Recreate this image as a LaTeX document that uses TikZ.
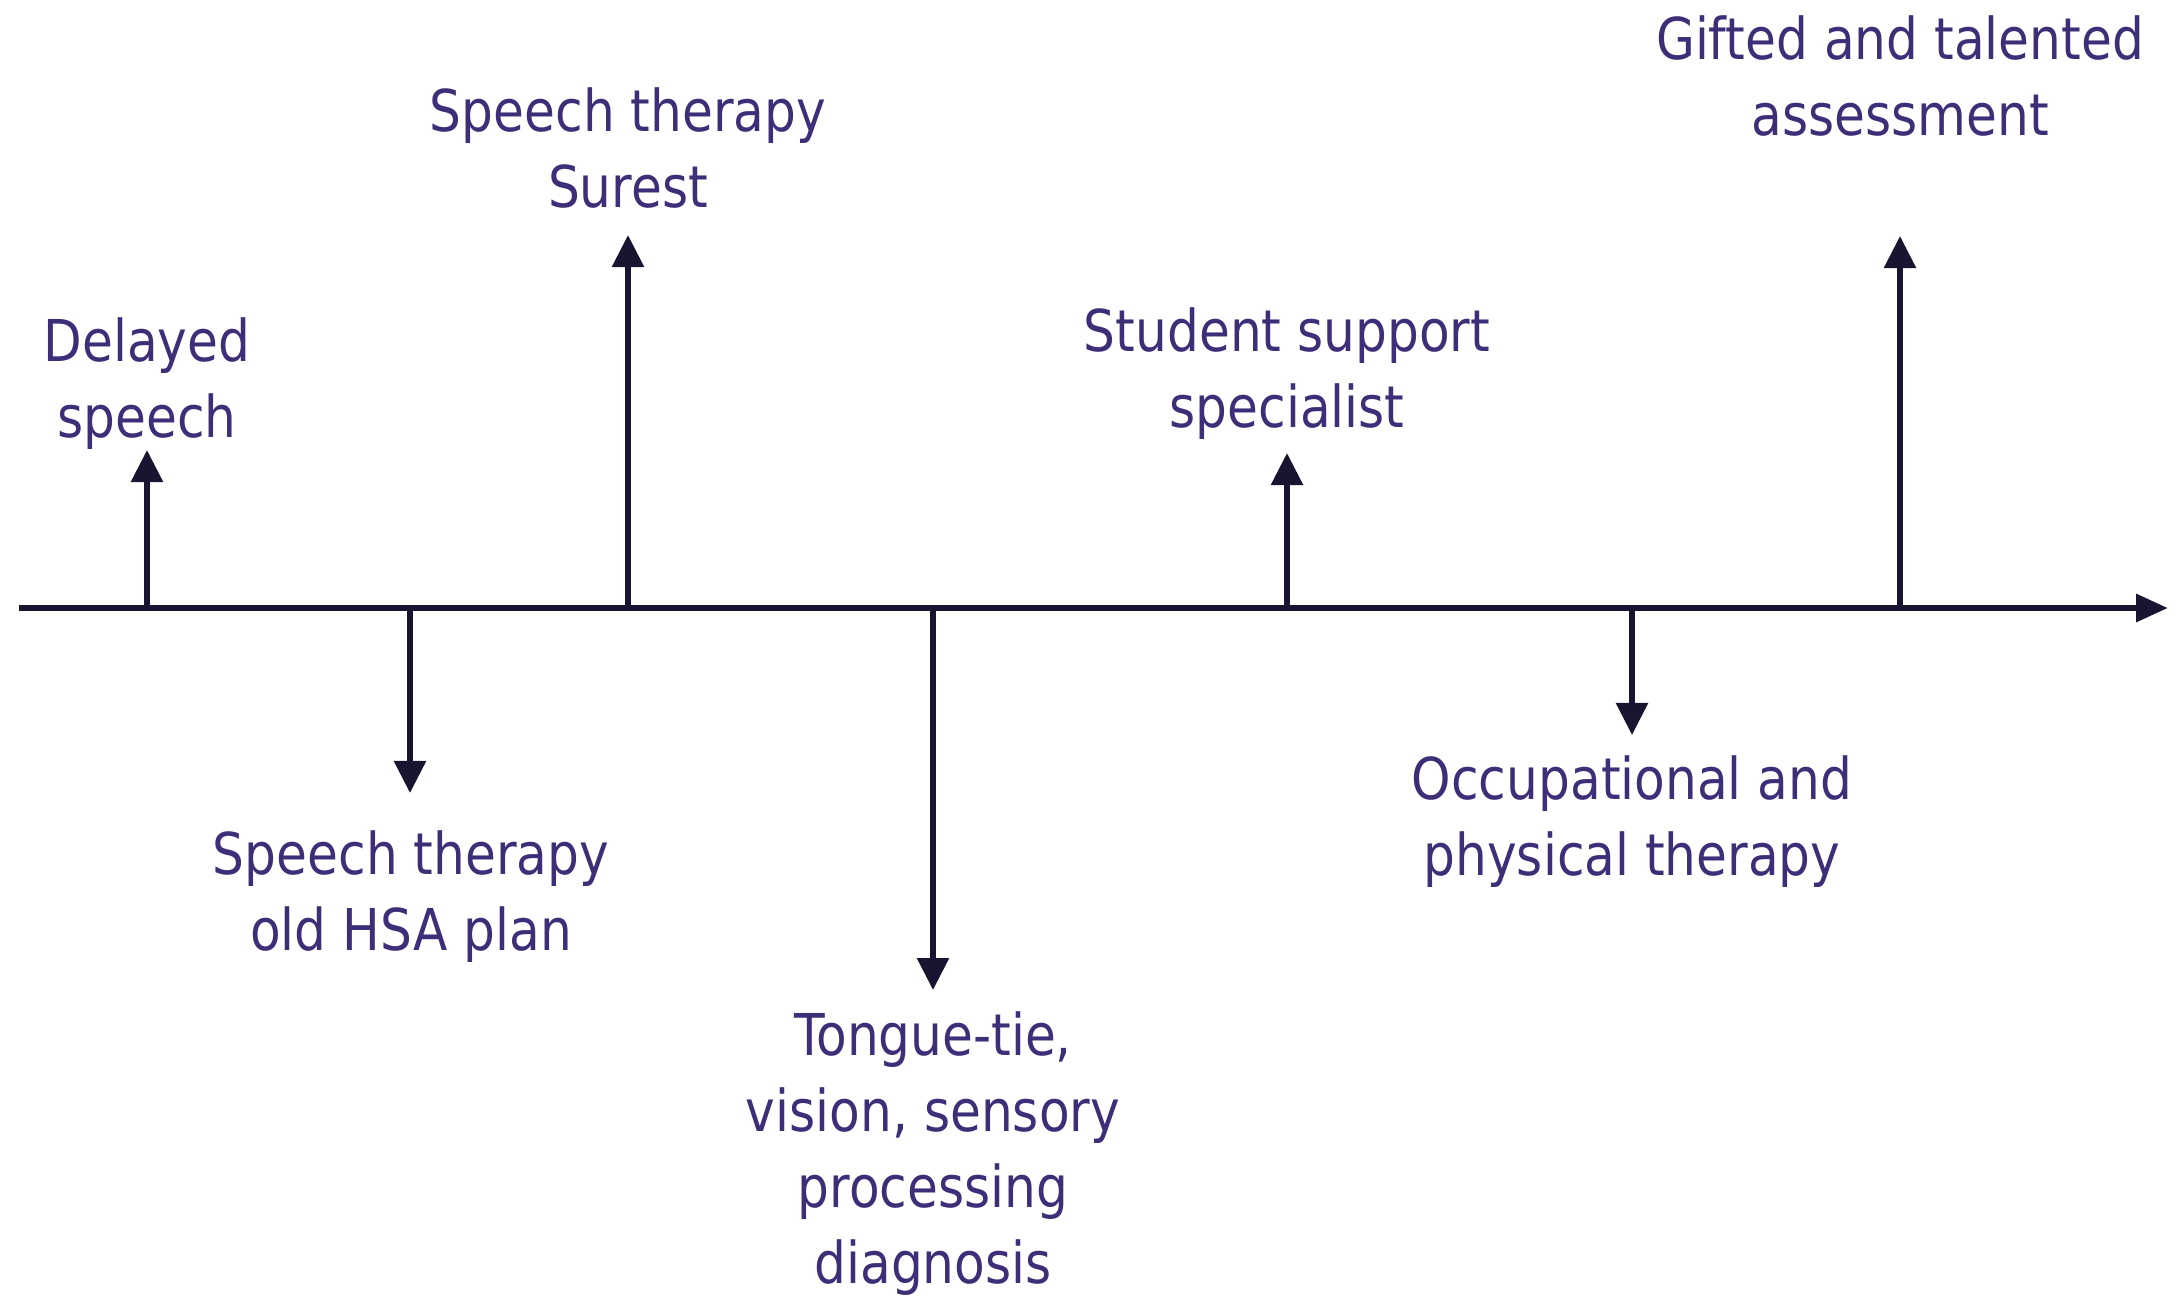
\documentclass[tikz,border=0pt]{standalone}
\usepackage{fontspec}
\setmainfont{DejaVu Sans}[FakeStretch=0.87]
\usepackage{tikz}
\usetikzlibrary{arrows.meta,positioning}

\definecolor{textpurple}{RGB}{62,46,120}
\definecolor{linenavy}{RGB}{27,20,48}

\begin{document}
\begin{tikzpicture}[
  x=0.01cm, y=-0.01cm,
  axis/.style={draw=linenavy, line width=1.8pt, -{Triangle[length=0.32cm, width=0.27cm]}},
  tick/.style={draw=linenavy, line width=1.6pt, -{Triangle[length=0.32cm, width=0.31cm]}},
  event/.style={text=textpurple, align=center, inner sep=0pt, anchor=base,
                font=\fontsize{16.4pt}{21.6pt}\selectfont}
]
  \useasboundingbox (0,0) rectangle (2181,1296);

  % Time line
  \coordinate (start) at (19,608);
  \coordinate (end) at (2168,608);
  \draw[axis] (start) -- (end);

  % Points on the line
  \coordinate (delayedroot) at (147,608);
  \coordinate (hsaroot) at (410,608);
  \coordinate (surestroot) at (628,608);
  \coordinate (tongueroot) at (933,608);
  \coordinate (studentroot) at (1287,608);
  \coordinate (occuproot) at (1632,608);
  \coordinate (giftedroot) at (1900,608);

  % Arrow tips
  \coordinate (delayedtip) at (147,450);
  \coordinate (hsatip) at (410,793);
  \coordinate (sureststip) at (628,235);
  \coordinate (tonguetip) at (933,990);
  \coordinate (studenttip) at (1287,453);
  \coordinate (occuptip) at (1632,735);
  \coordinate (giftedtip) at (1900,236);

  % Top: events above the line
  \node[event] (delayed) at (147,437) {Delayed\\speech};
  \node[event] (surest) at (628,207) {Speech therapy\\Surest};
  \node[event] (student) at (1287,427) {Student support\\specialist};
  \node[event] (gifted) at (1900,135) {Gifted and talented\\assessment};

  % Bottom: events below the line
  \node[event] (hsa) at (411,950) {Speech therapy\\old HSA plan};
  \node[event] (tongue) at (933,1283) {Tongue-tie,\\vision, sensory\\processing\\diagnosis};
  \node[event] (occup) at (1632,875) {Occupational and\\physical therapy};

  % Arrows
  \draw[tick] (delayedroot) -- (delayedtip);
  \draw[tick] (surestroot) -- (sureststip);
  \draw[tick] (studentroot) -- (studenttip);
  \draw[tick] (giftedroot) -- (giftedtip);
  \draw[tick] (hsaroot) -- (hsatip);
  \draw[tick] (tongueroot) -- (tonguetip);
  \draw[tick] (occuproot) -- (occuptip);
\end{tikzpicture}
\end{document}
